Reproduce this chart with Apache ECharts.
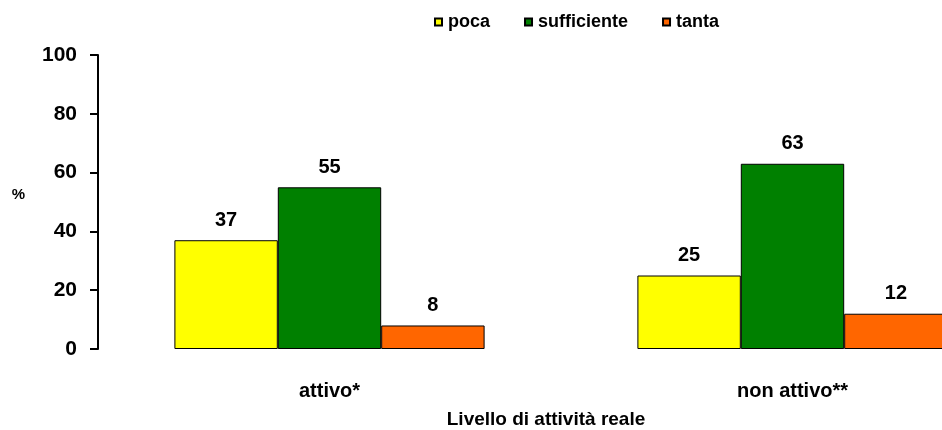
<!DOCTYPE html>
<html>
<head>
<meta charset="utf-8">
<script src="https://cdn.jsdelivr.net/npm/echarts@6/dist/echarts.min.js"></script>
<style>
html,body{margin:0;padding:0;background:#fff;}
#chart{width:942px;height:430px;}
</style>
</head>
<body>
<div id="chart"></div>
<script>
var categories = ['attivo*', 'non attivo**'];
var seriesNames = ['poca', 'sufficiente', 'tanta'];
var poca = [37, 25];
var sufficiente = [55, 63];
var tanta = [8, 12];
var yTicks = [0, 20, 40, 60, 80, 100];
var colors = ['#FFFF00', '#008000', '#FF6600'];
var font = 'Liberation Sans, Arial, sans-serif';

var values = [poca, sufficiente, tanta];
var chart = echarts.init(document.getElementById('chart'));
chart.setOption({
  animation: false,
  textStyle: { fontFamily: font },
  legend: {
    data: seriesNames,
    left: 429,
    top: 8,
    itemWidth: 7,
    itemHeight: 7,
    itemGap: 34,
    icon: 'rect',
    textStyle: { fontSize: 18, fontWeight: 'bold', color: '#000', fontFamily: font, padding: [0, 0, 0, 1] }
  },
  grid: { left: 98, top: 55, bottom: 81, width: 926, outerBoundsMode: 'none', containLabel: false },
  xAxis: {
    type: 'category',
    data: categories,
    axisLine: { show: false },
    axisTick: { show: false },
    axisLabel: { fontSize: 20, fontWeight: 'bold', color: '#000', margin: 32, fontFamily: font },
    name: 'Livello di attività reale',
    nameLocation: 'middle',
    nameGap: 61,
    nameTextStyle: { fontSize: 19, fontWeight: 'bold', color: '#000', fontFamily: font, padding: [0, 30, 0, 0] }
  },
  yAxis: {
    type: 'value',
    min: yTicks[0],
    max: yTicks[yTicks.length - 1],
    interval: yTicks[1] - yTicks[0],
    splitLine: { show: false },
    axisLine: { show: true, lineStyle: { color: '#000', width: 2 } },
    axisTick: { show: true, length: 8, lineStyle: { color: '#000', width: 2 } },
    axisLabel: { fontSize: 21, fontWeight: 'bold', color: '#000', margin: 21, fontFamily: font },
    name: '%',
    nameLocation: 'middle',
    nameRotate: 0,
    nameGap: 73,
    nameTextStyle: { fontSize: 15, fontWeight: 'bold', color: '#000', fontFamily: font, verticalAlign: 'bottom' }
  },
  series: seriesNames.map(function (n, i) {
    return {
      name: n,
      type: 'bar',
      data: values[i],
      barGap: '0%',
      barCategoryGap: '33%',
      itemStyle: { color: colors[i], borderColor: '#000', borderWidth: 1 },
      label: { show: true, position: 'top', distance: 10, fontSize: 20, fontWeight: 'bold', color: '#000', fontFamily: font }
    };
  })
});
</script>
</body>
</html>
